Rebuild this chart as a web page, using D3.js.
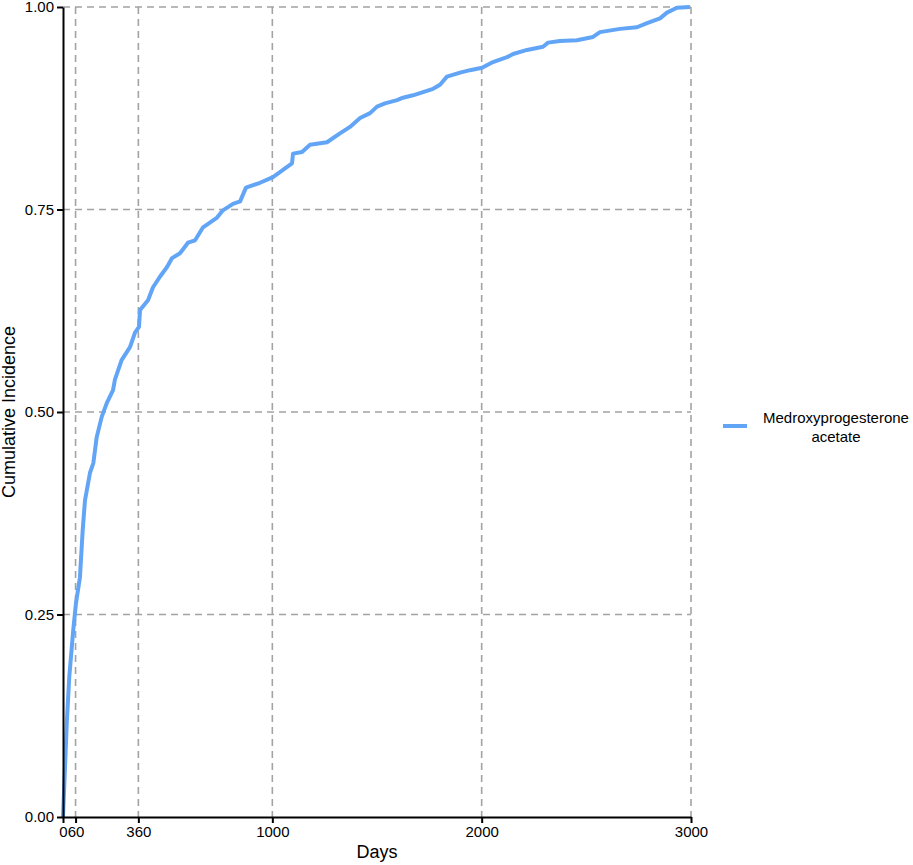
<!DOCTYPE html>
<html>
<head>
<meta charset="utf-8">
<script src="https://cdn.jsdelivr.net/npm/d3@7"></script>
<style>
  body { margin: 0; background: #fff; }
  svg text { font-family: "Liberation Sans", Arial, sans-serif; fill: #000; }
  .axis path, .axis line { stroke: #000; stroke-width: 2px; }
  .grid line { stroke: #a3a3a3; stroke-width: 1.6px; stroke-dasharray: 7,5; }
</style>
</head>
<body>
<div id="chart"></div>
<script>
// values
var days = [0, 18, 30, 49, 62, 81, 94, 105, 129, 145, 161, 185, 209, 239, 248, 280, 320, 344, 363, 368,
  406, 430, 463, 497, 521, 559, 597, 631, 669, 736, 764, 812, 846, 874, 941, 1003, 1051, 1094, 1099,
  1142, 1180, 1261, 1323, 1371, 1419, 1467, 1500, 1538, 1596, 1624, 1672, 1720, 1768, 1801, 1834,
  1897, 1944, 2002, 2054, 2121, 2150, 2217, 2293, 2317, 2374, 2455, 2532, 2565, 2661, 2742, 2790,
  2852, 2885, 2933, 2995];
var incidence = [0, 0.116, 0.173, 0.231, 0.264, 0.296, 0.354, 0.391, 0.425, 0.437, 0.469, 0.494, 0.511,
  0.527, 0.540, 0.564, 0.580, 0.598, 0.605, 0.626, 0.638, 0.654, 0.667, 0.679, 0.690, 0.696, 0.709,
  0.712, 0.728, 0.740, 0.749, 0.757, 0.760, 0.777, 0.783, 0.790, 0.799, 0.807, 0.819, 0.821, 0.830,
  0.833, 0.844, 0.852, 0.863, 0.869, 0.877, 0.881, 0.885, 0.888, 0.891, 0.895, 0.899, 0.904, 0.914,
  0.919, 0.922, 0.925, 0.932, 0.938, 0.942, 0.947, 0.951, 0.956, 0.958, 0.959, 0.963, 0.969, 0.973,
  0.975, 0.980, 0.986, 0.993, 0.999, 1.0];
var xTicks = [0, 60, 360, 1000, 2000, 3000];
var yTicks = [0, 0.25, 0.5, 0.75, 1];
var seriesName = ["Medroxyprogesterone", "acetate"];

var margin = {top: 7, right: 222, bottom: 48, left: 63};
var width = 913 - margin.left - margin.right,
    height = 865 - margin.top - margin.bottom;

var svg = d3.select("#chart").append("svg")
    .attr("width", 913)
    .attr("height", 865);

var g = svg.append("g")
    .attr("transform", "translate(" + margin.left + "," + margin.top + ")");

var x = d3.scaleLinear().domain([0, 3000]).range([0, width]);
var y = d3.scaleLinear().domain([0, 1]).range([height, 0]);

// grid
g.append("g").attr("class", "grid")
  .selectAll("line").data(yTicks.filter(function(d) { return d > 0; }))
  .enter().append("line")
    .attr("x1", 0).attr("x2", width)
    .attr("y1", function(d) { return y(d); })
    .attr("y2", function(d) { return y(d); });

g.append("g").attr("class", "grid")
  .selectAll("line").data(xTicks.filter(function(d) { return d > 0; }))
  .enter().append("line")
    .attr("y1", 0).attr("y2", height)
    .attr("x1", function(d) { return x(d); })
    .attr("x2", function(d) { return x(d); });

// curve
var line = d3.line()
    .x(function(d, i) { return x(days[i]); })
    .y(function(d, i) { return y(incidence[i]); });

g.append("path")
    .datum(days)
    .attr("fill", "none")
    .attr("stroke", "#62a5f6")
    .attr("stroke-width", 4)
    .attr("stroke-linejoin", "round")
    .attr("d", line);

// axes
var xAxis = g.append("g").attr("class", "axis")
    .attr("transform", "translate(0," + height + ")")
    .call(d3.axisBottom(x).tickValues(xTicks).tickFormat(d3.format("d")).tickSize(6).tickSizeOuter(0).tickPadding(3));
xAxis.selectAll("text").style("font-size", "15px");

var yAxis = g.append("g").attr("class", "axis")
    .call(d3.axisLeft(y).tickValues(yTicks).tickFormat(d3.format(".2f")).tickSize(6).tickSizeOuter(0).tickPadding(3));
yAxis.selectAll("text").style("font-size", "15px");
g.selectAll(".axis .domain").attr("stroke-width", 2);

// titles
svg.append("text")
    .attr("x", margin.left + width * 0.5)
    .attr("y", 858)
    .attr("text-anchor", "middle")
    .style("font-size", "18px")
    .text("Days");

svg.append("text")
    .attr("transform", "translate(15," + (margin.top + height / 2) + ") rotate(-90)")
    .attr("text-anchor", "middle")
    .style("font-size", "18px")
    .text("Cumulative Incidence");

// legend
var legend = svg.append("g").attr("transform", "translate(723,426)");
legend.append("line")
    .attr("x1", 0).attr("x2", 24)
    .attr("stroke", "#62a5f6")
    .attr("stroke-width", 4);
legend.selectAll("text").data(seriesName)
  .enter().append("text")
    .attr("x", 113)
    .attr("y", function(d, i) { return -3 + i * 19; })
    .attr("text-anchor", "middle")
    .style("font-size", "15px")
    .text(function(d) { return d; });
</script>
</body>
</html>
